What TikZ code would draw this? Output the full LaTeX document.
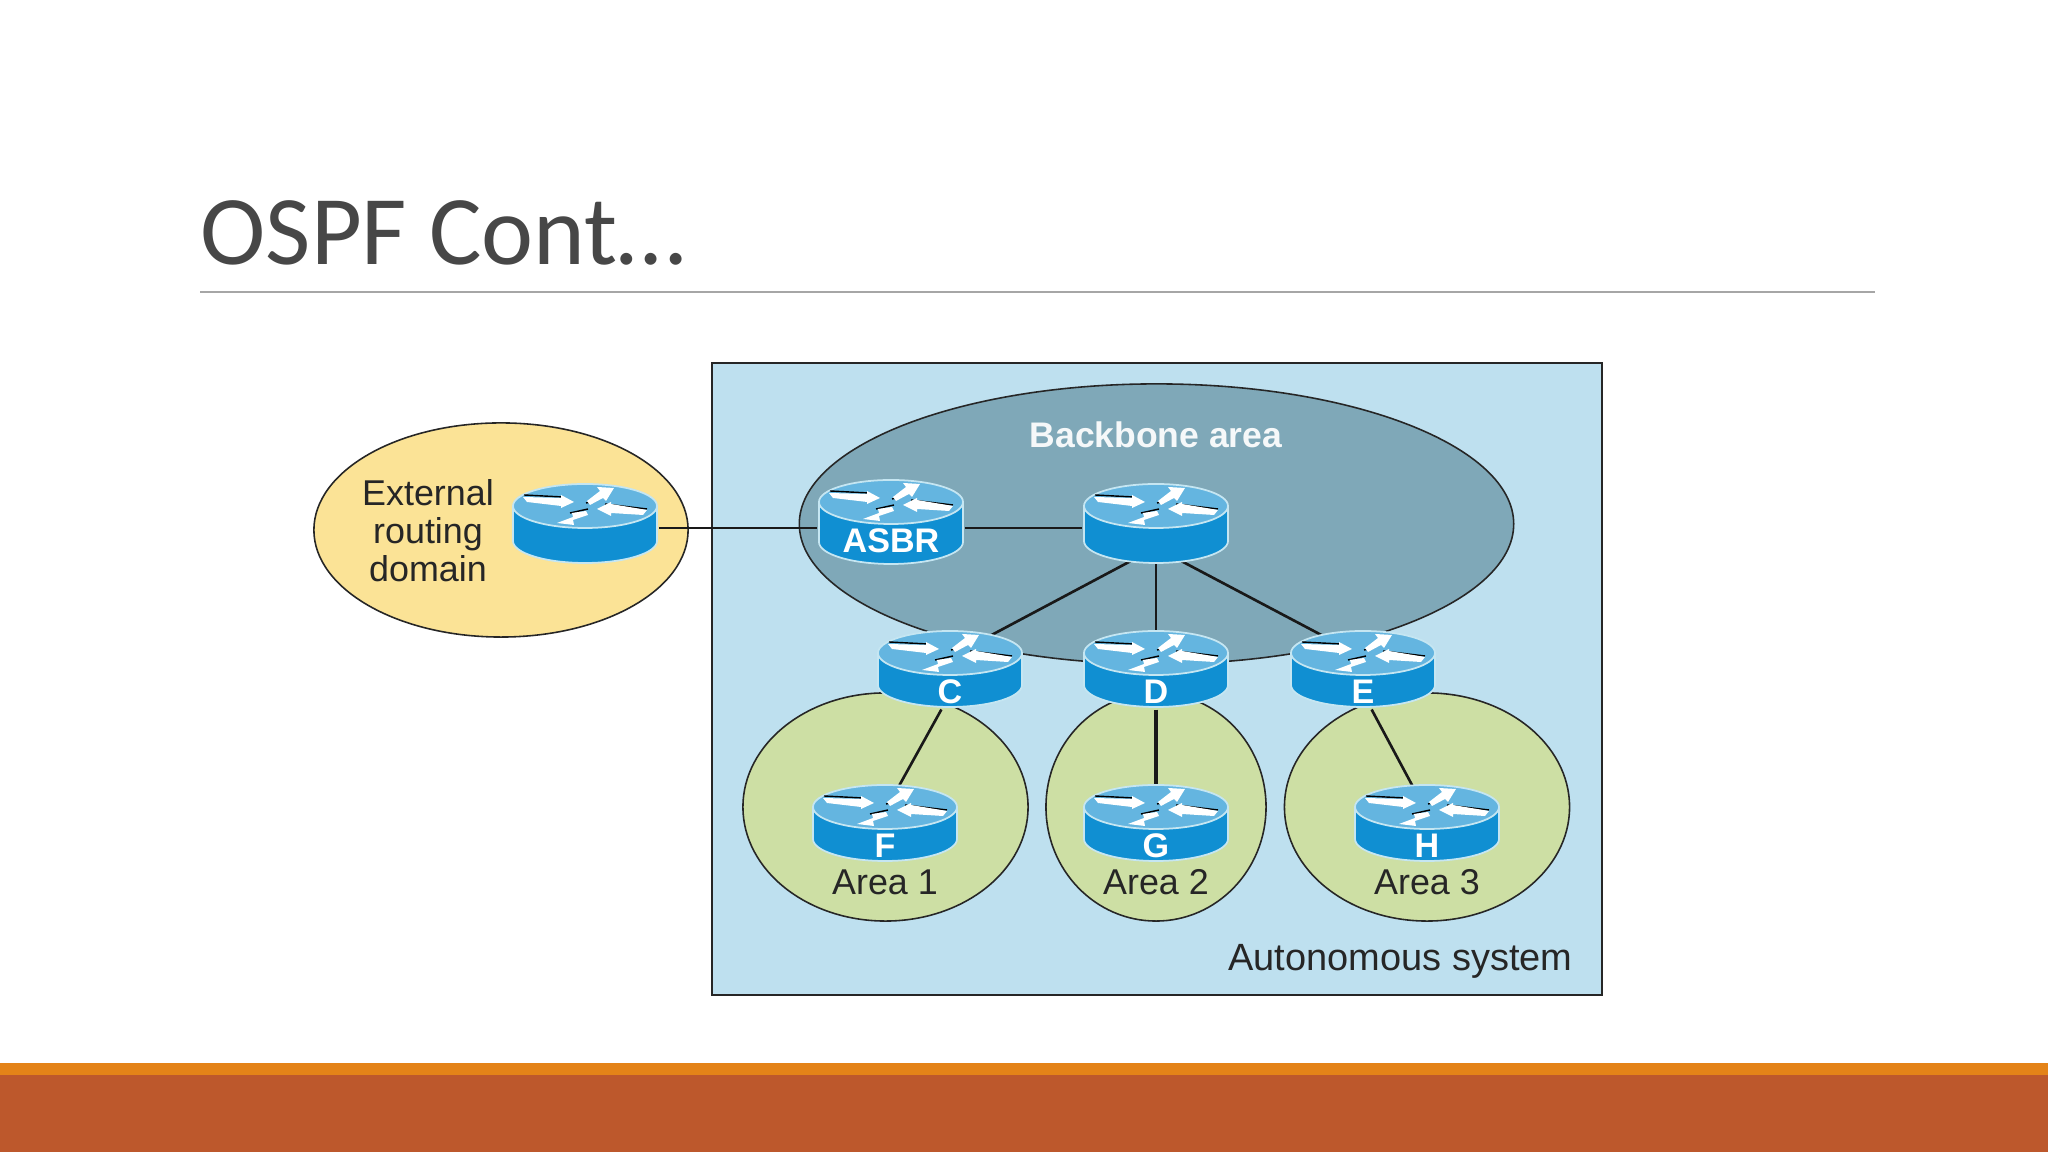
\documentclass[tikz,border=0pt]{standalone}
\usepackage{fontspec}
\setmainfont{Liberation Sans}
\newfontfamily\titlefont{Carlito}
\usetikzlibrary{shapes.geometric}
\definecolor{sysblue}{HTML}{BEE0EF}
\definecolor{backbonegrey}{HTML}{7FA8B8}
\definecolor{areagreen}{HTML}{CDDFA4}
\definecolor{extyellow}{HTML}{FBE396}
\definecolor{routertop}{HTML}{64B5E0}
\definecolor{routerside}{HTML}{108FD2}
\definecolor{routerrim}{HTML}{C5E6F2}
\tikzset{
    zone/.style={ellipse,draw=black!85,line width=0.45pt,inner sep=0},
    routerspot/.style={ellipse,minimum width=1.46cm,minimum height=0.68cm,inner sep=0},
    routerlab/.style={text=white,font=\fontsize{9.7}{10}\selectfont\bfseries,yshift=-0.17cm},
    lab/.style={text=black!85,font=\fontsize{10.2}{10.8}\selectfont,align=center},
    link/.style={draw=black!90,line width=0.75pt},
    tiny edge/.style={black,line width=0.4pt},
    pics/router/.style={code={
        \filldraw[fill=routerside,draw=routerrim,line width=0.5pt] (-72,22)--(-72,22-#1)
            arc[start angle=180,end angle=360,x radius=72,y radius=22]--(72,22)--cycle;
        \filldraw[fill=routertop,draw=routerrim,line width=0.5pt] (0,22) ellipse [x radius=72,y radius=22];
        \begin{scope}[shift={(0,22)}]
            \draw[tiny edge] (-61,11)--(-22,9);   % dark side of each arrow
            \draw[tiny edge] (20,2)--(62,-3);
            \draw[tiny edge] (1,3)--(11,5);
            \draw[tiny edge] (3,-3)--(-15,-7);
            \fill[white] (-62,9)--(-24,8)--(-24,11)--(-11,4)--(-24,-2)--(-24,0)--(-58,4)--cycle;
            \fill[white] (62,-4)--(26,2)--(26,4)--(12,-3)--(26,-10)--(26,-7)--(58,-9)--cycle;
            \fill[white] (2,5)--(15,15)--(12,19)--(29,18)--(21,5)--(18,8)--(5,1)--cycle;
            \fill[white] (1,-5)--(-13,-7)--(-12,-11)--(-28,-17)--(-11,-19)--(-12,-14)--(3,-9)--cycle;
        \end{scope}
    }}
}
\begin{document}
\begin{tikzpicture}[>=latex,x=0.01cm,y=0.01cm]
    \useasboundingbox (0,0) rectangle (2048,1152);
    \fill[white] (0,0) rectangle (2048,1152);
    \fill[fill={rgb,255:red,189;green,88;blue,44}] (0,0) rectangle (2048,77);
    \fill[fill={rgb,255:red,228;green,131;blue,24}] (0,77) rectangle (2048,89);
    \node[anchor=base west,inner sep=0,text=black!72,font=\titlefont\fontsize{28}{30}\selectfont] (title) at (200,887) {OSPF Cont…};
    \draw[black!35,line width=0.4pt] (200,860)--(1875,860);

    \filldraw[fill=sysblue,draw=black!85,line width=0.55pt] (712,157) rectangle (1602,789);
    \node[zone,fill=extyellow,minimum width=3.74cm,minimum height=2.14cm] (external) at (501,622) {};
    \node[zone,fill=backbonegrey,minimum width=7.14cm,minimum height=2.8cm] (backbone) at (1156.5,628) {};
    \node[zone,fill=areagreen,minimum width=2.85cm,minimum height=2.28cm] (area1) at (885.5,345) {};
    \node[zone,fill=areagreen,minimum width=2.2cm,minimum height=2.28cm] (area2) at (1156,345) {};
    \node[zone,fill=areagreen,minimum width=2.85cm,minimum height=2.28cm] (area3) at (1427,345) {};

    \node[routerspot] (Ext) at (585,624) {};
    \node[routerspot] (ASBR) at (891,624) {};
    \node[routerspot] (Main) at (1156,624) {};
    \node[routerspot] (C) at (950,477) {};
    \node[routerspot] (D) at (1156,477) {};
    \node[routerspot] (E) at (1363,477) {};
    \node[routerspot] (F) at (885,323) {};
    \node[routerspot] (G) at (1156,323) {};
    \node[routerspot] (H) at (1427,323) {};

    \draw[link,line width=0.5pt] (Ext)--(ASBR)--(Main);
    \draw[link] (Main.233)--(C.50);
    \draw[link] (Main)--(D);
    \draw[link] (Main.307)--(E.130);
    \draw[link] (C.256)--(F.75);
    \draw[link,line width=1pt] (D)--(G);
    \draw[link] (E.284)--(H.106);

    \path (Ext) pic (iconExt) {router=35};
    \path (ASBR) ++(0,4) pic (iconASBR) {router=40};
    \path (Main) pic (iconMain) {router=35};
    \path (C) pic (iconC) {router=32};
    \path (D) pic (iconD) {router=32};
    \path (E) pic (iconE) {router=32};
    \path (F) pic (iconF) {router=32};
    \path (G) pic (iconG) {router=32};
    \path (H) pic (iconH) {router=32};

    \node[routerlab,yshift=0.04cm] (labASBR) at (ASBR) {ASBR};
    \node[routerlab] (labC) at (C) {C};
    \node[routerlab] (labD) at (D) {D};
    \node[routerlab] (labE) at (E) {E};
    \node[routerlab] (labF) at (F) {F};
    \node[routerlab] (labG) at (G) {G};
    \node[routerlab] (labH) at (H) {H};

    \node[lab] (labExternal) at (428,621) {External\\routing\\domain};
    \node[lab,text=white!92!backbonegrey,font=\fontsize{10.1}{11}\selectfont\bfseries] (labBackbone) at (1156,717) {Backbone area};
    \node[lab] (labArea1) at (885,270) {Area 1};
    \node[lab] (labArea2) at (1156,270) {Area 2};
    \node[lab] (labArea3) at (1427,270) {Area 3};
    \node[lab,font=\fontsize{10.8}{11}\selectfont,anchor=east] (labSystem) at (1585,191) {Autonomous system};
\end{tikzpicture}
\end{document}
